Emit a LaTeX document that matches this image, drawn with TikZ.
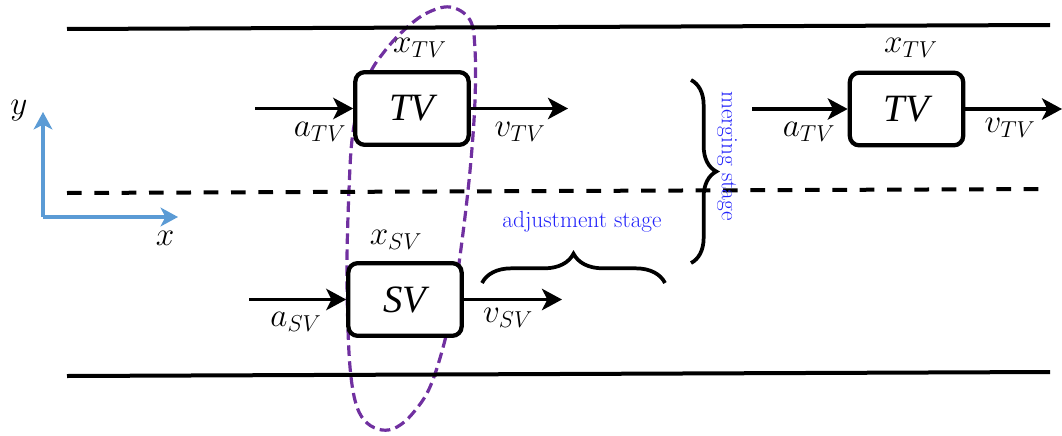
\documentclass[tikz,border=0pt]{standalone}
\usepackage{fontspec}
\newfontfamily\boxfont{Liberation Serif}
\usetikzlibrary{arrows.meta,decorations.pathreplacing}
\definecolor{axisblue}{RGB}{91,155,213}
\definecolor{ellpurple}{RGB}{112,48,160}
\definecolor{stageblue}{RGB}{35,35,250}
\begin{document}
\begin{tikzpicture}[x=0.75pt,y=-0.75pt,
  road/.style={line width=3pt},
  lane/.style={line width=3pt,dash pattern=on 11pt off 9.5pt},
  veh/.style={draw,fill=white,line width=3.2pt,rounded corners=7pt,minimum width=85pt,minimum height=54.5pt,inner sep=0pt,font=\boxfont\itshape\fontsize{29}{31}\selectfont},
  flow/.style={line width=2.7pt,-{Stealth[length=15pt,width=16pt,inset=4pt]}},
  lab/.style={font=\fontsize{26}{30}\selectfont,inner sep=0pt},
  axis/.style={axisblue,line width=2.4pt,-{Stealth[length=13pt,width=14pt,inset=3.5pt]}},
  bracestyle/.style={line width=2.8pt,decorate},
  stagetext/.style={stageblue,font=\fontsize{17.5}{20}\selectfont,inner sep=0pt},
  zone/.style={ellpurple,line width=2.4pt,dash pattern=on 8pt off 4pt}
]
\useasboundingbox (0,0) rectangle (1062,435);
% zone (behind the vehicles)
\draw[zone] plot[smooth cycle,tension=0.6] coordinates {
 (450,7) (470,20) (475,50) (475,100) (471,160) (464,225) (455,290) (445,340)
 (430,387) (413,413) (397,427) (382,430) (367,423) (357,407) (351,377) (348,330)
 (347,260) (349,190) (352,140) (359,103) (370,73) (384,52) (402,32) (425,14)};
% road
\coordinate (r1a) at (67,29); \coordinate (r1b) at (1050,25);
\coordinate (r2a) at (67,193); \coordinate (r2b) at (1050,189);
\coordinate (r3a) at (67,376); \coordinate (r3b) at (1050,372);
\draw[road] (r1a) -- (r1b);
\draw[lane] (r2a) -- (r2b);
\draw[road] (r3a) -- (r3b);
% vehicles
\node[veh] (tv1) at (412,108.5) {TV};
\node[veh] (tv2) at (906.5,109) {TV};
\node[veh] (sv) at (405,299.5) {SV};
% flows
\coordinate (tv1in) at (255,108.5); \coordinate (tv1out) at (568,108.5);
\coordinate (tv2in) at (752,109); \coordinate (tv2out) at (1062,109);
\coordinate (svin) at (249,299.5); \coordinate (svout) at (562,299.5);
\draw[flow] (tv1in) -- (tv1.west);
\draw[flow] (tv1.east) -- (tv1out);
\draw[flow] (tv2in) -- (tv2.west);
\draw[flow] (tv2.east) -- (tv2out);
\draw[flow] (svin) -- (sv.west);
\draw[flow] (sv.east) -- (svout);
% labels
\node[lab] (atv1) at (320,132) {$a_{TV}$};
\node[lab] (vtv1) at (520,132) {$v_{TV}$};
\node[lab] (xtv1) at (420,48) {$x_{TV}$};
\node[lab] (atv2) at (809,132) {$a_{TV}$};
\node[lab] (vtv2) at (1010,128) {$v_{TV}$};
\node[lab] (xtv2) at (911,48) {$x_{TV}$};
\node[lab] (asv) at (296,322) {$a_{SV}$};
\node[lab] (vsv) at (508,318) {$v_{SV}$};
\node[lab] (xsv) at (396,240) {$x_{SV}$};
% axes
\coordinate (o) at (43,217); \coordinate (ytip) at (43,112); \coordinate (xtip) at (178,217);
\draw[axis] (o) -- (ytip);
\draw[axis] (o) -- (xtip);
\node[lab] (ylab) at (19,111) {$y$};
\node[lab] (xlab) at (165,238) {$x$};
% braces
\coordinate (b1a) at (482,283); \coordinate (b1b) at (665,283);
\draw[bracestyle,decoration={brace,amplitude=22pt}] (b1a) -- (b1b);
\node[stagetext] (adj) at (582,222) {adjustment stage};
\coordinate (b2a) at (691,80); \coordinate (b2b) at (691,263);
\draw[bracestyle,decoration={brace,amplitude=19pt}] (b2a) -- (b2b);
\node[stagetext,rotate=-90] (merge) at (727,156) {merging stage};
\end{tikzpicture}
\end{document}
